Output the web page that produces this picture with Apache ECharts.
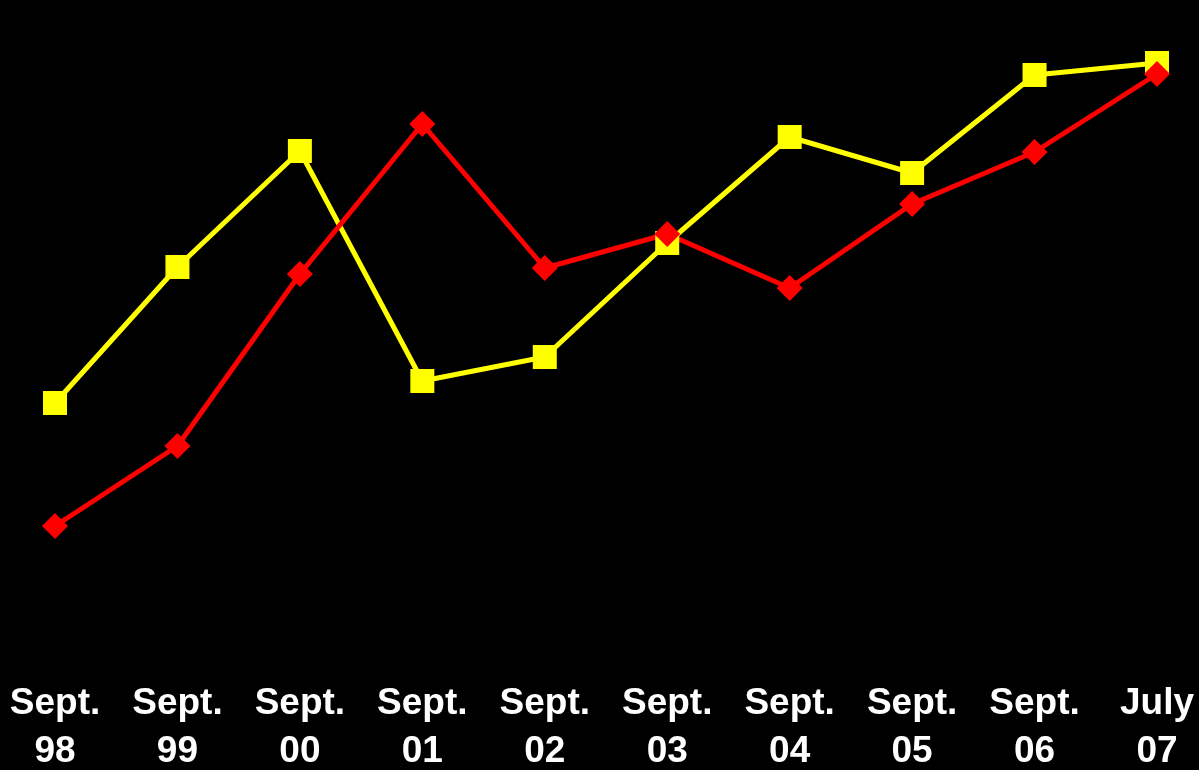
<!DOCTYPE html>
<html><head><meta charset="utf-8">
<script src="https://cdn.jsdelivr.net/npm/echarts@6/dist/echarts.min.js"></script>
<style>html,body{margin:0;padding:0;background:#000;}#c{width:1199px;height:770px;}</style>
</head><body><div id="c"></div>
<script>
const categories = ['Sept.\n98','Sept.\n99','Sept.\n00','Sept.\n01','Sept.\n02','Sept.\n03','Sept.\n04','Sept.\n05','Sept.\n06','July\n07'];
const yellowValues = [267, 403, 519, 289, 313, 427, 533, 497, 595, 607];
const redValues = [144, 224, 396, 546, 402, 436, 382, 466, 518, 596];

const chart = echarts.init(document.getElementById('c'), null, {renderer:'canvas'});
chart.setOption({
  backgroundColor: '#000',
  animation: false,
  grid: {left: 55, right: 42, top: 0, bottom: 100, containLabel: false, outerBoundsMode: 'none'},
  xAxis: {
    type: 'category', data: categories, boundaryGap: false,
    axisLine: {show: false}, axisTick: {show: false}, splitLine: {show: false},
    axisLabel: {color: '#fff', fontFamily: 'Liberation Sans, Arial', fontWeight: 'bold', fontSize: 37, lineHeight: 48, margin: 10, interval: 0, hideOverlap: false}
  },
  yAxis: {
    type: 'value', min: 0, max: 670,
    show: false
  },
  series: [
    {type: 'line', data: yellowValues, symbol: 'rect', symbolSize: 24,
     lineStyle: {color: '#ffff00', width: 5}, itemStyle: {color: '#ffff00'}},
    {type: 'line', data: redValues, symbol: 'diamond', symbolSize: [26, 26],
     lineStyle: {color: '#ff0000', width: 5}, itemStyle: {color: '#ff0000'}}
  ]
});
</script></body></html>
